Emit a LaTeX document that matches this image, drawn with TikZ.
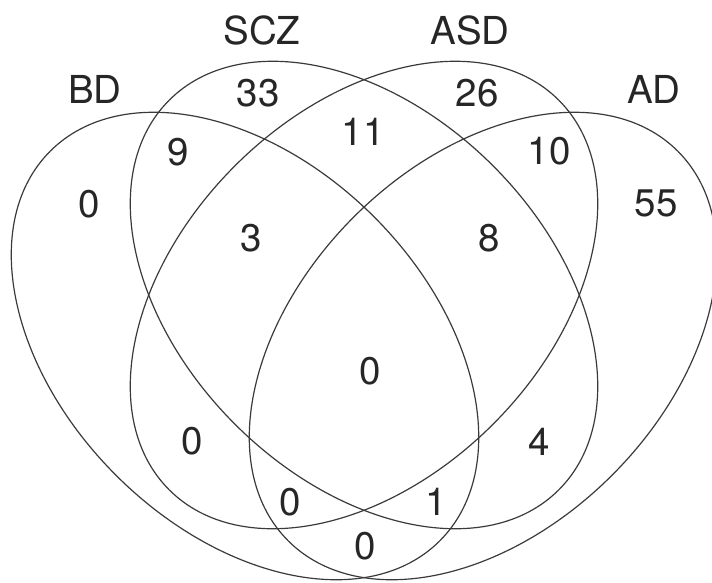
\documentclass[tikz,border=0pt]{standalone}
\usepackage{fontspec}
\setmainfont{TeX Gyre Heros}
\definecolor{linegray}{HTML}{3A3A3A}
\definecolor{txtgray}{HTML}{262626}
\begin{document}
\begin{tikzpicture}[x=1pt,y=1pt,
  setline/.style={draw=linegray, line width=1.2pt},
  lbl/.style={text=txtgray, font=\fontsize{38.5}{40}\selectfont, inner sep=0pt, anchor=center},
]
\useasboundingbox (0,0) rectangle (712,-582);
\begin{scope}
\clip (0,0) rectangle (712,-582);
% four congruent ellipses, two outer and two inner
\draw[setline, rotate around={-45:(245,-346)}] (245,-346) ellipse (275.5 and 182.6);   % BD
\draw[setline, rotate around={-45:(364,-295)}] (364,-295) ellipse (275.5 and 182.6);   % SCZ
\draw[setline, rotate around={45:(364,-295)}]  (364,-295) ellipse (275.5 and 182.6);   % ASD
\draw[setline, rotate around={45:(483,-346)}]  (483,-346) ellipse (275.5 and 182.6);   % AD
\end{scope}

% set names
\node[lbl] (nBD)  at (95,-89)  {BD};
\node[lbl] (nSCZ) at (262,-30) {SCZ};
\node[lbl] (nASD) at (470,-30) {ASD};
\node[lbl] (nAD)  at (654,-89) {AD};

% region counts
\node[lbl] (rSCZ)      at (258,-93)  {33};
\node[lbl] (rASD)      at (477,-93)  {26};
\node[lbl] (rBDSCZ)    at (178,-152) {9};
\node[lbl] (rSCZASD)   at (363,-132) {11};
\node[lbl] (rASDAD)    at (549,-151) {10};
\node[lbl] (rBD)       at (89,-204)  {0};
\node[lbl] (rAD)       at (656,-203) {55};
\node[lbl] (rBDSCZASD) at (251,-238) {3};
\node[lbl] (rSCZASDAD) at (489,-238) {8};
\node[lbl] (rAll)      at (370,-371) {0};
\node[lbl] (rBDASD)    at (192,-441) {0};
\node[lbl] (rSCZAD)    at (539,-442) {4};
\node[lbl] (rBDASDAD)  at (290,-502) {0};
\node[lbl] (rBDSCZAD)  at (436,-502) {1};
\node[lbl] (rBDAD)     at (365,-546) {0};
\end{tikzpicture}
\end{document}
